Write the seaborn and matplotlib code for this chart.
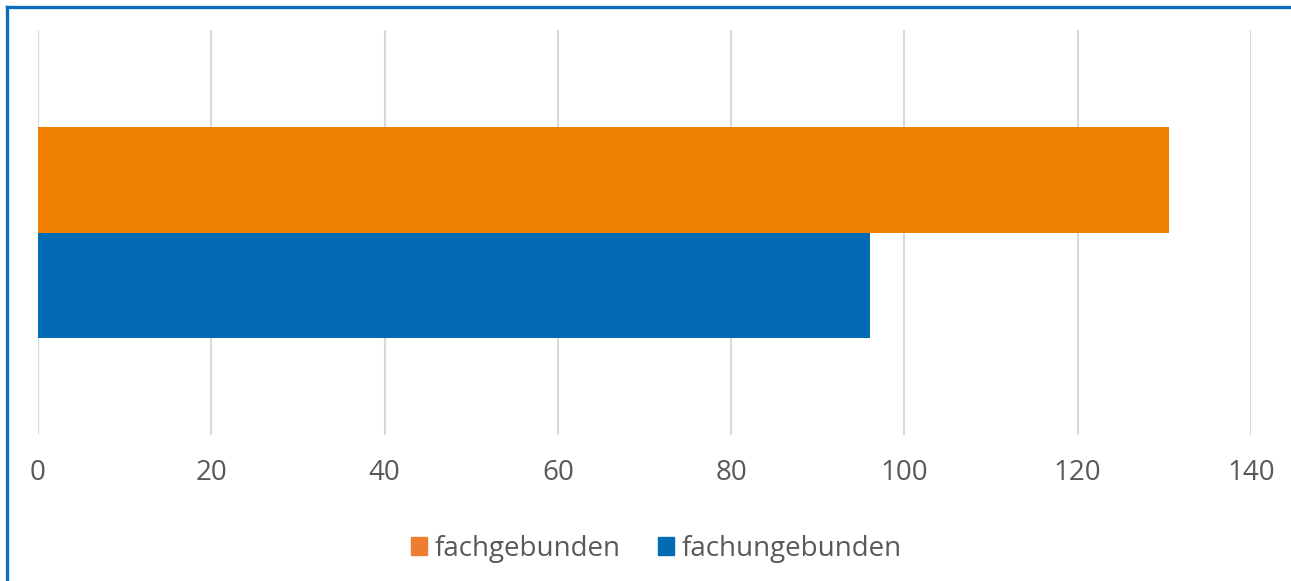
import matplotlib
matplotlib.use("Agg")
import matplotlib.pyplot as plt
import matplotlib.patches as mpatches
import matplotlib.lines as mlines
import seaborn as sns
import pandas as pd

categories = ["Studienplätze"]
series = ["fachgebunden", "fachungebunden"]
values = [130.5, 96]
bar_colors = ["#F08000", "#036BB4"]
legend_colors = ["#ED7D31", "#036BB4"]
xticks = [0, 20, 40, 60, 80, 100, 120, 140]

sns.set_theme(style="white")
plt.rcParams['font.family'] = ['Open Sans', 'DejaVu Sans']

df = pd.DataFrame({"cat": categories * len(series), "series": series, "value": values})

fig = plt.figure(figsize=(12.91, 5.81), dpi=100)
ax = fig.add_axes([38/1291, 1-435/581, (1251-38)/1291, (435-30)/581])

sns.barplot(data=df, x="value", y="cat", hue="series", orient="h",
            palette=bar_colors, width=0.52, ax=ax, legend=False,
            saturation=1, linewidth=0)

ax.set_xlim(0, 140)
ax.set_ylim(0.5, -0.5)
ax.set_xticks(xticks)
ax.set_xticklabels([str(t) for t in xticks])
ax.set_yticks([])
ax.set_xlabel("")
ax.set_ylabel("")
ax.xaxis.grid(True, color="#D9D9D9", linewidth=1.5)
ax.set_axisbelow(True)
for s in ax.spines.values():
    s.set_visible(False)
ax.tick_params(axis="x", length=0, pad=17, labelsize=20, labelcolor="#595959")

handles = [mpatches.Patch(color=c, label=s) for s, c in zip(series, legend_colors)]
fig.legend(handles=handles, loc="center", bbox_to_anchor=(656/1291, 1-549/581), ncol=2,
           frameon=False, fontsize=20, labelcolor="#595959", handlelength=0.6,
           handleheight=0.6, handletextpad=0.25, columnspacing=1.35)

# Border visible only on top and left (cropped at right/bottom)
fig.lines.append(mlines.Line2D([7/1291, 7/1291], [0, 1-6.5/581], transform=fig.transFigure,
                               color="#0A6EBD", linewidth=2.4, solid_capstyle="projecting"))
fig.lines.append(mlines.Line2D([7/1291, 1], [1-6.5/581, 1-6.5/581], transform=fig.transFigure,
                               color="#0A6EBD", linewidth=2.4, solid_capstyle="projecting"))

fig.savefig("out.png", dpi=100, facecolor="white")
